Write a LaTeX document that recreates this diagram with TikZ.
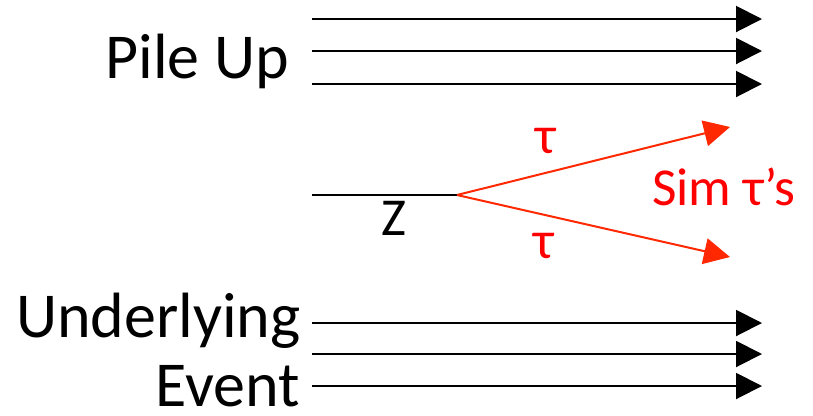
\documentclass[tikz,border=0pt]{standalone}
\usepackage{fontspec}
\setmainfont{Carlito}
\usepackage{xcolor}
\usetikzlibrary{arrows.meta,positioning}
\definecolor{taured}{RGB}{255,40,0}
\definecolor{labelred}{RGB}{255,0,0}

\begin{document}
\begin{tikzpicture}[x=0.75pt,y=-0.75pt,
  track/.style={line width=1.5pt,-{Triangle[length=19.5pt,width=19.5pt]}},
  tautrack/.style={line width=1.5pt,taured,-{Triangle[length=19.5pt,width=19.5pt]}},
  biglabel/.style={inner sep=0pt,font=\fontsize{48}{54}\selectfont},
  smalllabel/.style={inner sep=0pt,font=\fontsize{40}{44}\selectfont}]
  \useasboundingbox (0,0) rectangle (813,415);
  % pile up tracks
  \foreach \i/\y in {1/19,2/51,3/84} {
    \coordinate (pu\i) at (312,\y);
    \coordinate (pe\i) at (762,\y);
    \draw[track] (pu\i) -- (pe\i);
  }
  % underlying event tracks
  \foreach \i/\y in {1/323,2/354,3/386} {
    \coordinate (ue\i) at (312,\y);
    \coordinate (uf\i) at (762,\y);
    \draw[track] (ue\i) -- (uf\i);
  }
  % Z decaying to two taus
  \coordinate (zin) at (312,195);
  \coordinate (zv) at (457,195);
  \coordinate (tau1) at (730,127);
  \coordinate (tau2) at (730,257);
  \draw[line width=1.5pt] (zin) -- (zv);
  \draw[tautrack] (zv) -- (tau1);
  \draw[tautrack] (zv) -- (tau2);
  \node[biglabel,anchor=base east] (pileup) at (289,78) {Pile Up};
  \node[biglabel,anchor=base east] (under) at (301,337) {Underlying};
  \node[biglabel,anchor=base east] (event) at (300,406) {Event};
  \node[smalllabel,anchor=base] (zlab) at (394,235) {Z};
  \node[smalllabel,anchor=base,labelred] (taulab1) at (546,153) {τ};
  \node[smalllabel,anchor=base,labelred] (taulab2) at (544,258) {τ};
  \node[smalllabel,anchor=base west,labelred] (simtau) at (652,205) {Sim τ’s};
\end{tikzpicture}
\end{document}
